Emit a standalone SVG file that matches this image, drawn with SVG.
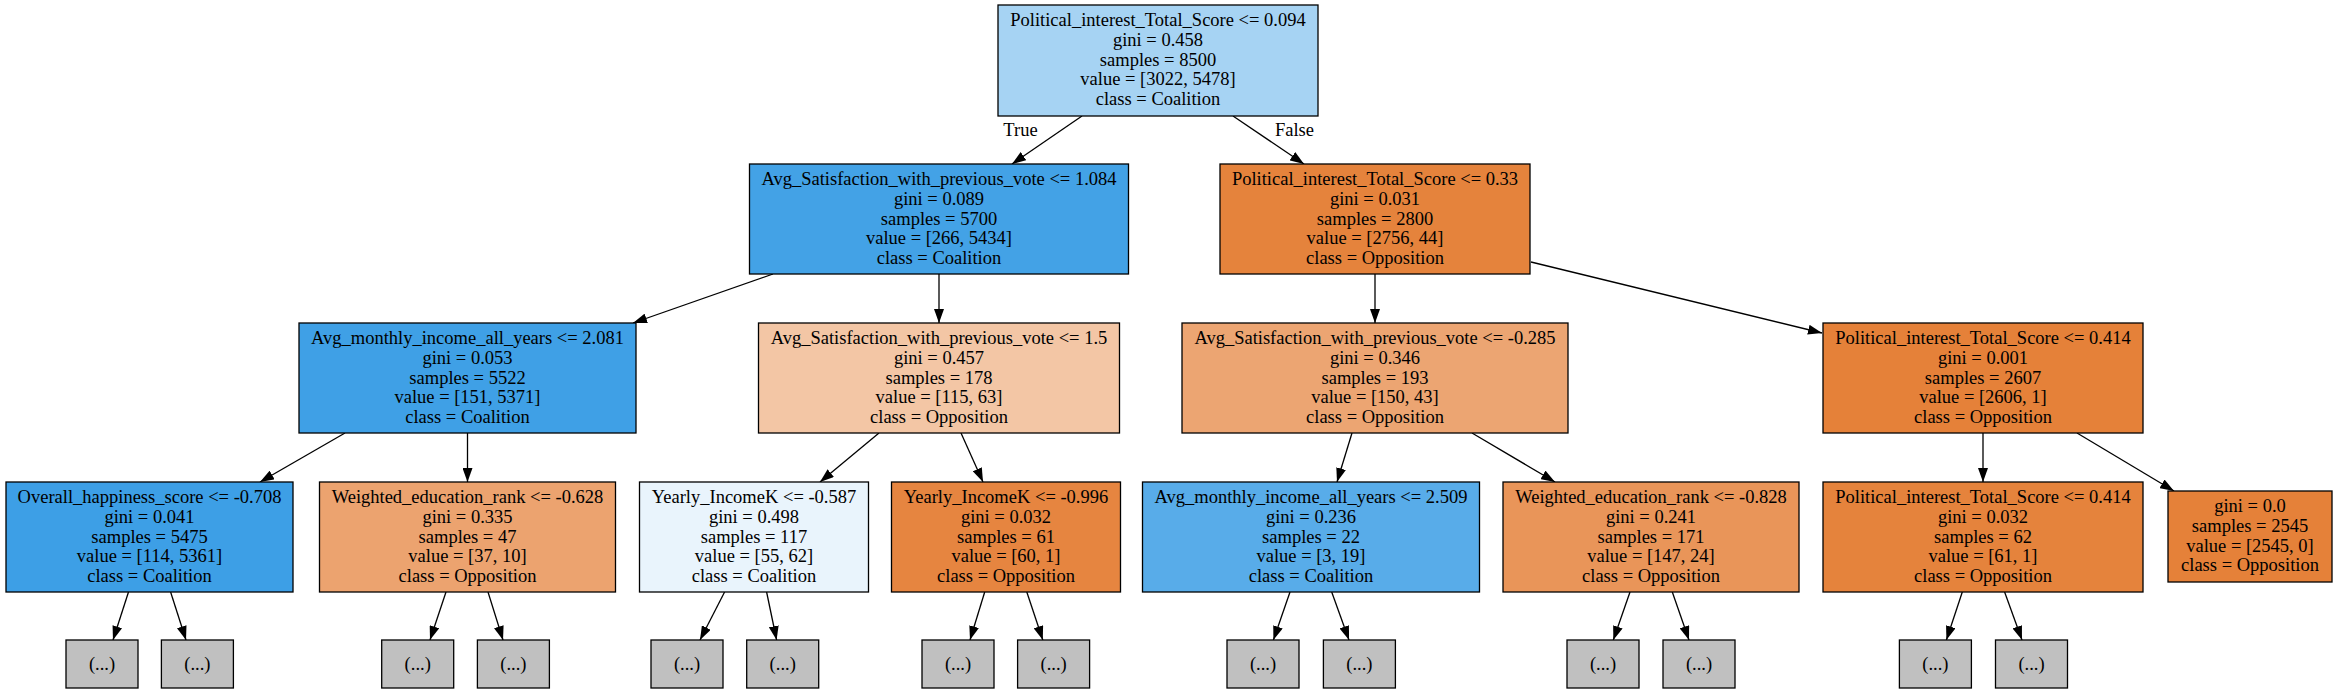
<svg xmlns="http://www.w3.org/2000/svg" width="2337" height="693" viewBox="0 0 2337 693">
<style>
text{font-family:"Liberation Serif","Times New Roman",serif;font-size:18.5px;text-anchor:middle;fill:#000}
.box{stroke:#000;stroke-width:1.3}
.leaf{fill:#c0c0c0;stroke:#000;stroke-width:1.3}
.e{stroke:#000;stroke-width:1.3;fill:none;marker-end:url(#ah)}
</style>
<defs>
<marker id="ah" viewBox="0 0 14 10" refX="14" refY="5" markerWidth="14" markerHeight="10" markerUnits="userSpaceOnUse" orient="auto">
<path d="M0,0 L14,5 L0,10 z" fill="#000"/>
</marker>
</defs>
<rect width="2337" height="693" fill="#fff"/>
<g id="edges">
<line class="e" x1="1082" y1="116" x2="1012" y2="164"/>
<line class="e" x1="1233" y1="116" x2="1304" y2="164"/>
<line class="e" x1="773" y1="274" x2="633" y2="323"/>
<line class="e" x1="939" y1="274" x2="939" y2="323"/>
<line class="e" x1="1375" y1="274" x2="1375" y2="323"/>
<line class="e" x1="1531" y1="262" x2="1822" y2="333"/>
<line class="e" x1="345" y1="433" x2="260" y2="482"/>
<line class="e" x1="467.5" y1="433" x2="467.5" y2="482"/>
<line class="e" x1="879" y1="433" x2="820" y2="482"/>
<line class="e" x1="961" y1="433" x2="983" y2="482"/>
<line class="e" x1="1352" y1="433" x2="1337" y2="482"/>
<line class="e" x1="1472" y1="433" x2="1555" y2="482"/>
<line class="e" x1="1983" y1="433" x2="1983" y2="482"/>
<line class="e" x1="2077" y1="433" x2="2174" y2="491"/>
<line class="e" x1="128.5" y1="592" x2="113" y2="640"/>
<line class="e" x1="170.6" y1="592" x2="186" y2="640"/>
<line class="e" x1="446" y1="592" x2="430" y2="640"/>
<line class="e" x1="488" y1="592" x2="503" y2="640"/>
<line class="e" x1="724.6" y1="592" x2="700" y2="640"/>
<line class="e" x1="766.6" y1="592" x2="776.6" y2="640"/>
<line class="e" x1="984.7" y1="592" x2="970" y2="640"/>
<line class="e" x1="1026.8" y1="592" x2="1042.8" y2="640"/>
<line class="e" x1="1290" y1="592" x2="1273.4" y2="640"/>
<line class="e" x1="1331.7" y1="592" x2="1349" y2="640"/>
<line class="e" x1="1630" y1="592" x2="1613.3" y2="640"/>
<line class="e" x1="1672.3" y1="592" x2="1689" y2="640"/>
<line class="e" x1="1962.3" y1="592" x2="1946.4" y2="640"/>
<line class="e" x1="2004.6" y1="592" x2="2022" y2="640"/>
<text x="1020.5" y="136">True</text>
<text x="1294.5" y="136">False</text>
</g>
<g id="n0">
<rect class="box" x="998" y="5" width="320" height="111" fill="#a6d3f3"/>
<text x="1158" y="26">Political_interest_Total_Score &lt;= 0.094</text>
<text x="1158" y="45.8">gini = 0.458</text>
<text x="1158" y="65.6">samples = 8500</text>
<text x="1158" y="85.4">value = [3022, 5478]</text>
<text x="1158" y="105.2">class = Coalition</text>
</g>
<g id="n1">
<rect class="box" x="749.5" y="164" width="379" height="110" fill="#43a2e6"/>
<text x="939" y="185">Avg_Satisfaction_with_previous_vote &lt;= 1.084</text>
<text x="939" y="204.8">gini = 0.089</text>
<text x="939" y="224.6">samples = 5700</text>
<text x="939" y="244.4">value = [266, 5434]</text>
<text x="939" y="264.2">class = Coalition</text>
</g>
<g id="n2">
<rect class="box" x="1220" y="164" width="310" height="110" fill="#e5833c"/>
<text x="1375" y="185">Political_interest_Total_Score &lt;= 0.33</text>
<text x="1375" y="204.8">gini = 0.031</text>
<text x="1375" y="224.6">samples = 2800</text>
<text x="1375" y="244.4">value = [2756, 44]</text>
<text x="1375" y="264.2">class = Opposition</text>
</g>
<g id="n3">
<rect class="box" x="299" y="323" width="337" height="110" fill="#3fa0e6"/>
<text x="467.5" y="344">Avg_monthly_income_all_years &lt;= 2.081</text>
<text x="467.5" y="363.8">gini = 0.053</text>
<text x="467.5" y="383.6">samples = 5522</text>
<text x="467.5" y="403.4">value = [151, 5371]</text>
<text x="467.5" y="423.2">class = Coalition</text>
</g>
<g id="n4">
<rect class="box" x="758.5" y="323" width="361" height="110" fill="#f3c6a5"/>
<text x="939" y="344">Avg_Satisfaction_with_previous_vote &lt;= 1.5</text>
<text x="939" y="363.8">gini = 0.457</text>
<text x="939" y="383.6">samples = 178</text>
<text x="939" y="403.4">value = [115, 63]</text>
<text x="939" y="423.2">class = Opposition</text>
</g>
<g id="n5">
<rect class="box" x="1182" y="323" width="386" height="110" fill="#eca572"/>
<text x="1375" y="344">Avg_Satisfaction_with_previous_vote &lt;= -0.285</text>
<text x="1375" y="363.8">gini = 0.346</text>
<text x="1375" y="383.6">samples = 193</text>
<text x="1375" y="403.4">value = [150, 43]</text>
<text x="1375" y="423.2">class = Opposition</text>
</g>
<g id="n6">
<rect class="box" x="1823" y="323" width="320" height="110" fill="#e58139"/>
<text x="1983" y="344">Political_interest_Total_Score &lt;= 0.414</text>
<text x="1983" y="363.8">gini = 0.001</text>
<text x="1983" y="383.6">samples = 2607</text>
<text x="1983" y="403.4">value = [2606, 1]</text>
<text x="1983" y="423.2">class = Opposition</text>
</g>
<g id="n7">
<rect class="box" x="6" y="482" width="287" height="110" fill="#3d9fe6"/>
<text x="149.5" y="503">Overall_happiness_score &lt;= -0.708</text>
<text x="149.5" y="522.8">gini = 0.041</text>
<text x="149.5" y="542.6">samples = 5475</text>
<text x="149.5" y="562.4">value = [114, 5361]</text>
<text x="149.5" y="582.2">class = Coalition</text>
</g>
<g id="n8">
<rect class="box" x="319.5" y="482" width="296" height="110" fill="#eca36f"/>
<text x="467.5" y="503">Weighted_education_rank &lt;= -0.628</text>
<text x="467.5" y="522.8">gini = 0.335</text>
<text x="467.5" y="542.6">samples = 47</text>
<text x="467.5" y="562.4">value = [37, 10]</text>
<text x="467.5" y="582.2">class = Opposition</text>
</g>
<g id="n9">
<rect class="box" x="639.5" y="482" width="229" height="110" fill="#e9f4fc"/>
<text x="754" y="503">Yearly_IncomeK &lt;= -0.587</text>
<text x="754" y="522.8">gini = 0.498</text>
<text x="754" y="542.6">samples = 117</text>
<text x="754" y="562.4">value = [55, 62]</text>
<text x="754" y="582.2">class = Coalition</text>
</g>
<g id="n10">
<rect class="box" x="891.5" y="482" width="229" height="110" fill="#e68540"/>
<text x="1006" y="503">Yearly_IncomeK &lt;= -0.996</text>
<text x="1006" y="522.8">gini = 0.032</text>
<text x="1006" y="542.6">samples = 61</text>
<text x="1006" y="562.4">value = [60, 1]</text>
<text x="1006" y="582.2">class = Opposition</text>
</g>
<g id="n11">
<rect class="box" x="1142.5" y="482" width="337" height="110" fill="#58ace9"/>
<text x="1311" y="503">Avg_monthly_income_all_years &lt;= 2.509</text>
<text x="1311" y="522.8">gini = 0.236</text>
<text x="1311" y="542.6">samples = 22</text>
<text x="1311" y="562.4">value = [3, 19]</text>
<text x="1311" y="582.2">class = Coalition</text>
</g>
<g id="n12">
<rect class="box" x="1503" y="482" width="296" height="110" fill="#e99559"/>
<text x="1651" y="503">Weighted_education_rank &lt;= -0.828</text>
<text x="1651" y="522.8">gini = 0.241</text>
<text x="1651" y="542.6">samples = 171</text>
<text x="1651" y="562.4">value = [147, 24]</text>
<text x="1651" y="582.2">class = Opposition</text>
</g>
<g id="n13">
<rect class="box" x="1823" y="482" width="320" height="110" fill="#e5833c"/>
<text x="1983" y="503">Political_interest_Total_Score &lt;= 0.414</text>
<text x="1983" y="522.8">gini = 0.032</text>
<text x="1983" y="542.6">samples = 62</text>
<text x="1983" y="562.4">value = [61, 1]</text>
<text x="1983" y="582.2">class = Opposition</text>
</g>
<g id="n14">
<rect class="box" x="2168" y="491" width="164" height="91" fill="#e58139"/>
<text x="2250" y="512">gini = 0.0</text>
<text x="2250" y="531.8">samples = 2545</text>
<text x="2250" y="551.6">value = [2545, 0]</text>
<text x="2250" y="571.4">class = Opposition</text>
</g>
<g id="leaves">
<g id="l1"><rect class="leaf" x="66" y="640" width="72" height="48"/><text x="102" y="670">(...)</text></g>
<g id="l2"><rect class="leaf" x="161.4" y="640" width="72" height="48"/><text x="197.4" y="670">(...)</text></g>
<g id="l3"><rect class="leaf" x="381.7" y="640" width="72" height="48"/><text x="417.7" y="670">(...)</text></g>
<g id="l4"><rect class="leaf" x="477.4" y="640" width="72" height="48"/><text x="513.4" y="670">(...)</text></g>
<g id="l5"><rect class="leaf" x="651" y="640" width="72" height="48"/><text x="687" y="670">(...)</text></g>
<g id="l6"><rect class="leaf" x="746.7" y="640" width="72" height="48"/><text x="782.7" y="670">(...)</text></g>
<g id="l7"><rect class="leaf" x="922" y="640" width="72" height="48"/><text x="958" y="670">(...)</text></g>
<g id="l8"><rect class="leaf" x="1017.6" y="640" width="72" height="48"/><text x="1053.6" y="670">(...)</text></g>
<g id="l9"><rect class="leaf" x="1227" y="640" width="72" height="48"/><text x="1263" y="670">(...)</text></g>
<g id="l10"><rect class="leaf" x="1323.4" y="640" width="72" height="48"/><text x="1359.4" y="670">(...)</text></g>
<g id="l11"><rect class="leaf" x="1567" y="640" width="72" height="48"/><text x="1603" y="670">(...)</text></g>
<g id="l12"><rect class="leaf" x="1663" y="640" width="72" height="48"/><text x="1699" y="670">(...)</text></g>
<g id="l13"><rect class="leaf" x="1899.4" y="640" width="72" height="48"/><text x="1935.4" y="670">(...)</text></g>
<g id="l14"><rect class="leaf" x="1995.5" y="640" width="72" height="48"/><text x="2031.5" y="670">(...)</text></g>
</g>
</svg>
